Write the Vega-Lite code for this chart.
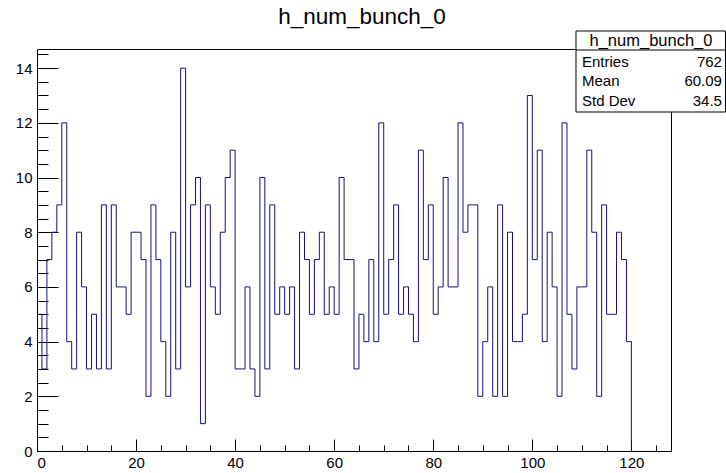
{
  "$schema": "https://vega.github.io/schema/vega-lite/v6.json",
  "width": 634,
  "height": 402,
  "autosize": {"type": "none"},
  "padding": {"left": 37, "top": 49, "right": 55, "bottom": 22},
  "background": "white",
  "config": {
    "view": {"stroke": "black", "strokeWidth": 1},
    "axis": {"domain": false, "grid": false, "labelFont": "Liberation Sans", "labelFontSize": 15, "labelColor": "black", "tickColor": "black", "tickWidth": 1, "title": null}
  },
  "title": {"text": "h_num_bunch_0", "font": "Liberation Sans", "fontSize": 22.5, "fontWeight": "normal", "color": "black", "anchor": "middle", "frame": "group", "dx": 8, "offset": -16, "baseline": "alphabetic"},
  "datasets": {
    "hist": [
      {"bin": 0, "count": 5}, {"bin": 1, "count": 3}, {"bin": 2, "count": 7}, {"bin": 3, "count": 8}, {"bin": 4, "count": 9},
      {"bin": 5, "count": 12}, {"bin": 6, "count": 4}, {"bin": 7, "count": 3}, {"bin": 8, "count": 8}, {"bin": 9, "count": 6},
      {"bin": 10, "count": 3}, {"bin": 11, "count": 5}, {"bin": 12, "count": 3}, {"bin": 13, "count": 9}, {"bin": 14, "count": 3},
      {"bin": 15, "count": 9}, {"bin": 16, "count": 6}, {"bin": 17, "count": 6}, {"bin": 18, "count": 5}, {"bin": 19, "count": 8},
      {"bin": 20, "count": 8}, {"bin": 21, "count": 7}, {"bin": 22, "count": 2}, {"bin": 23, "count": 9}, {"bin": 24, "count": 7},
      {"bin": 25, "count": 4}, {"bin": 26, "count": 2}, {"bin": 27, "count": 8}, {"bin": 28, "count": 3}, {"bin": 29, "count": 14},
      {"bin": 30, "count": 6}, {"bin": 31, "count": 9}, {"bin": 32, "count": 10}, {"bin": 33, "count": 1}, {"bin": 34, "count": 9},
      {"bin": 35, "count": 6}, {"bin": 36, "count": 5}, {"bin": 37, "count": 8}, {"bin": 38, "count": 10}, {"bin": 39, "count": 11},
      {"bin": 40, "count": 3}, {"bin": 41, "count": 3}, {"bin": 42, "count": 6}, {"bin": 43, "count": 3}, {"bin": 44, "count": 2},
      {"bin": 45, "count": 10}, {"bin": 46, "count": 3}, {"bin": 47, "count": 9}, {"bin": 48, "count": 5}, {"bin": 49, "count": 6},
      {"bin": 50, "count": 5}, {"bin": 51, "count": 6}, {"bin": 52, "count": 3}, {"bin": 53, "count": 8}, {"bin": 54, "count": 7},
      {"bin": 55, "count": 5}, {"bin": 56, "count": 7}, {"bin": 57, "count": 8}, {"bin": 58, "count": 5}, {"bin": 59, "count": 6},
      {"bin": 60, "count": 5}, {"bin": 61, "count": 10}, {"bin": 62, "count": 7}, {"bin": 63, "count": 7}, {"bin": 64, "count": 3},
      {"bin": 65, "count": 5}, {"bin": 66, "count": 4}, {"bin": 67, "count": 7}, {"bin": 68, "count": 4}, {"bin": 69, "count": 12},
      {"bin": 70, "count": 5}, {"bin": 71, "count": 7}, {"bin": 72, "count": 9}, {"bin": 73, "count": 5}, {"bin": 74, "count": 6},
      {"bin": 75, "count": 5}, {"bin": 76, "count": 4}, {"bin": 77, "count": 11}, {"bin": 78, "count": 7}, {"bin": 79, "count": 9},
      {"bin": 80, "count": 5}, {"bin": 81, "count": 6}, {"bin": 82, "count": 10}, {"bin": 83, "count": 6}, {"bin": 84, "count": 6},
      {"bin": 85, "count": 12}, {"bin": 86, "count": 8}, {"bin": 87, "count": 9}, {"bin": 88, "count": 9}, {"bin": 89, "count": 2},
      {"bin": 90, "count": 4}, {"bin": 91, "count": 6}, {"bin": 92, "count": 2}, {"bin": 93, "count": 9}, {"bin": 94, "count": 2},
      {"bin": 95, "count": 8}, {"bin": 96, "count": 4}, {"bin": 97, "count": 4}, {"bin": 98, "count": 5}, {"bin": 99, "count": 13},
      {"bin": 100, "count": 7}, {"bin": 101, "count": 11}, {"bin": 102, "count": 4}, {"bin": 103, "count": 8}, {"bin": 104, "count": 6},
      {"bin": 105, "count": 2}, {"bin": 106, "count": 12}, {"bin": 107, "count": 5}, {"bin": 108, "count": 3}, {"bin": 109, "count": 6},
      {"bin": 110, "count": 6}, {"bin": 111, "count": 11}, {"bin": 112, "count": 8}, {"bin": 113, "count": 2}, {"bin": 114, "count": 9},
      {"bin": 115, "count": 5}, {"bin": 116, "count": 5}, {"bin": 117, "count": 8}, {"bin": 118, "count": 7}, {"bin": 119, "count": 4},
      {"bin": 120, "count": 0}
    ],
    "stats": [
      {"stat": "Entries", "value": "762"},
      {"stat": "Mean", "value": "60.09"},
      {"stat": "Std Dev", "value": "34.5"}
    ],
    "boxtitle": [{"name": "h_num_bunch_0"}]
  },
  "resolve": {"axis": {"x": "independent", "y": "independent"}},
  "layer": [
    {
      "data": {"name": "hist"},
      "mark": {"type": "line", "interpolate": "step-after", "strokeOpacity": 0},
      "encoding": {
        "x": {"field": "bin", "type": "quantitative", "scale": {"domain": [0, 128], "nice": false, "zero": false},
              "axis": {"orient": "bottom", "values": [0,5,10,15,20,25,30,35,40,45,50,55,60,65,70,75,80,85,90,95,100,105,110,115,120,125], "tickSize": -6, "labels": false}},
        "y": {"field": "count", "type": "quantitative", "scale": {"domain": [0, 14.7], "nice": false},
              "axis": {"orient": "left", "values": [0,0.5,1,1.5,2,2.5,3,3.5,4,4.5,5,5.5,6,6.5,7,7.5,8,8.5,9,9.5,10,10.5,11,11.5,12,12.5,13,13.5,14,14.5], "tickSize": -11, "labels": false}}
      }
    },
    {
      "data": {"name": "hist"},
      "mark": {"type": "line", "interpolate": "step-after", "color": "#12127a", "strokeWidth": 1},
      "encoding": {
        "x": {"field": "bin", "type": "quantitative", "scale": {"domain": [0, 128], "nice": false, "zero": false},
              "axis": {"orient": "bottom", "values": [0,20,40,60,80,100,120], "tickSize": -12, "labelPadding": 16}},
        "y": {"field": "count", "type": "quantitative", "scale": {"domain": [0, 14.7], "nice": false},
              "axis": {"orient": "left", "values": [0,2,4,6,8,10,12,14], "tickSize": -21, "labelPadding": 26}}
      }
    },
    {
      "data": {"name": "boxtitle"},
      "mark": {"type": "rect", "fill": "white", "stroke": "black", "strokeWidth": 1},
      "encoding": {
        "x": {"datum": 108.82, "type": "quantitative", "scale": {"domain": [0, 128], "nice": false, "zero": false}, "axis": null},
        "x2": {"datum": 139.0},
        "y": {"datum": 15.358, "type": "quantitative", "scale": {"domain": [0, 14.7], "nice": false}, "axis": null},
        "y2": {"datum": 12.396}
      }
    },
    {
      "data": {"name": "boxtitle"},
      "mark": {"type": "rule", "stroke": "black", "strokeWidth": 1},
      "encoding": {
        "x": {"datum": 108.82, "type": "quantitative", "scale": {"domain": [0, 128], "nice": false, "zero": false}, "axis": null},
        "x2": {"datum": 139.0},
        "y": {"datum": 14.663, "type": "quantitative", "scale": {"domain": [0, 14.7], "nice": false}, "axis": null}
      }
    },
    {
      "data": {"name": "boxtitle"},
      "mark": {"type": "text", "font": "Liberation Sans", "fontSize": 16.5, "color": "black", "align": "center", "baseline": "middle"},
      "encoding": {
        "x": {"datum": 123.96, "type": "quantitative", "scale": {"domain": [0, 128], "nice": false, "zero": false}, "axis": null},
        "y": {"datum": 15.01, "type": "quantitative", "scale": {"domain": [0, 14.7], "nice": false}, "axis": null},
        "text": {"field": "name", "type": "nominal"}
      }
    },
    {
      "data": {"name": "stats"},
      "transform": [{"filter": "datum.stat === 'Entries'"}],
      "encoding": {
        "y": {"datum": 14.23, "type": "quantitative", "scale": {"domain": [0, 14.7], "nice": false}, "axis": null}
      },
      "layer": [
        {"mark": {"type": "text", "font": "Liberation Sans", "fontSize": 15, "color": "black", "align": "left", "baseline": "middle"},
         "encoding": {"x": {"datum": 110.03, "type": "quantitative", "scale": {"domain": [0, 128], "nice": false, "zero": false}, "axis": null}, "text": {"field": "stat", "type": "nominal"}}},
        {"mark": {"type": "text", "font": "Liberation Sans", "fontSize": 15, "color": "black", "align": "right", "baseline": "middle"},
         "encoding": {"x": {"datum": 138.29, "type": "quantitative", "scale": {"domain": [0, 128], "nice": false, "zero": false}, "axis": null}, "text": {"field": "value", "type": "nominal"}}}
      ]
    },
    {
      "data": {"name": "stats"},
      "transform": [{"filter": "datum.stat === 'Mean'"}],
      "encoding": {
        "y": {"datum": 13.53, "type": "quantitative", "scale": {"domain": [0, 14.7], "nice": false}, "axis": null}
      },
      "layer": [
        {"mark": {"type": "text", "font": "Liberation Sans", "fontSize": 15, "color": "black", "align": "left", "baseline": "middle"},
         "encoding": {"x": {"datum": 110.03, "type": "quantitative", "scale": {"domain": [0, 128], "nice": false, "zero": false}, "axis": null}, "text": {"field": "stat", "type": "nominal"}}},
        {"mark": {"type": "text", "font": "Liberation Sans", "fontSize": 15, "color": "black", "align": "right", "baseline": "middle"},
         "encoding": {"x": {"datum": 138.29, "type": "quantitative", "scale": {"domain": [0, 128], "nice": false, "zero": false}, "axis": null}, "text": {"field": "value", "type": "nominal"}}}
      ]
    },
    {
      "data": {"name": "stats"},
      "transform": [{"filter": "datum.stat === 'Std Dev'"}],
      "encoding": {
        "y": {"datum": 12.8, "type": "quantitative", "scale": {"domain": [0, 14.7], "nice": false}, "axis": null}
      },
      "layer": [
        {"mark": {"type": "text", "font": "Liberation Sans", "fontSize": 15, "color": "black", "align": "left", "baseline": "middle"},
         "encoding": {"x": {"datum": 110.03, "type": "quantitative", "scale": {"domain": [0, 128], "nice": false, "zero": false}, "axis": null}, "text": {"field": "stat", "type": "nominal"}}},
        {"mark": {"type": "text", "font": "Liberation Sans", "fontSize": 15, "color": "black", "align": "right", "baseline": "middle"},
         "encoding": {"x": {"datum": 138.29, "type": "quantitative", "scale": {"domain": [0, 128], "nice": false, "zero": false}, "axis": null}, "text": {"field": "value", "type": "nominal"}}}
      ]
    }
  ]
}
